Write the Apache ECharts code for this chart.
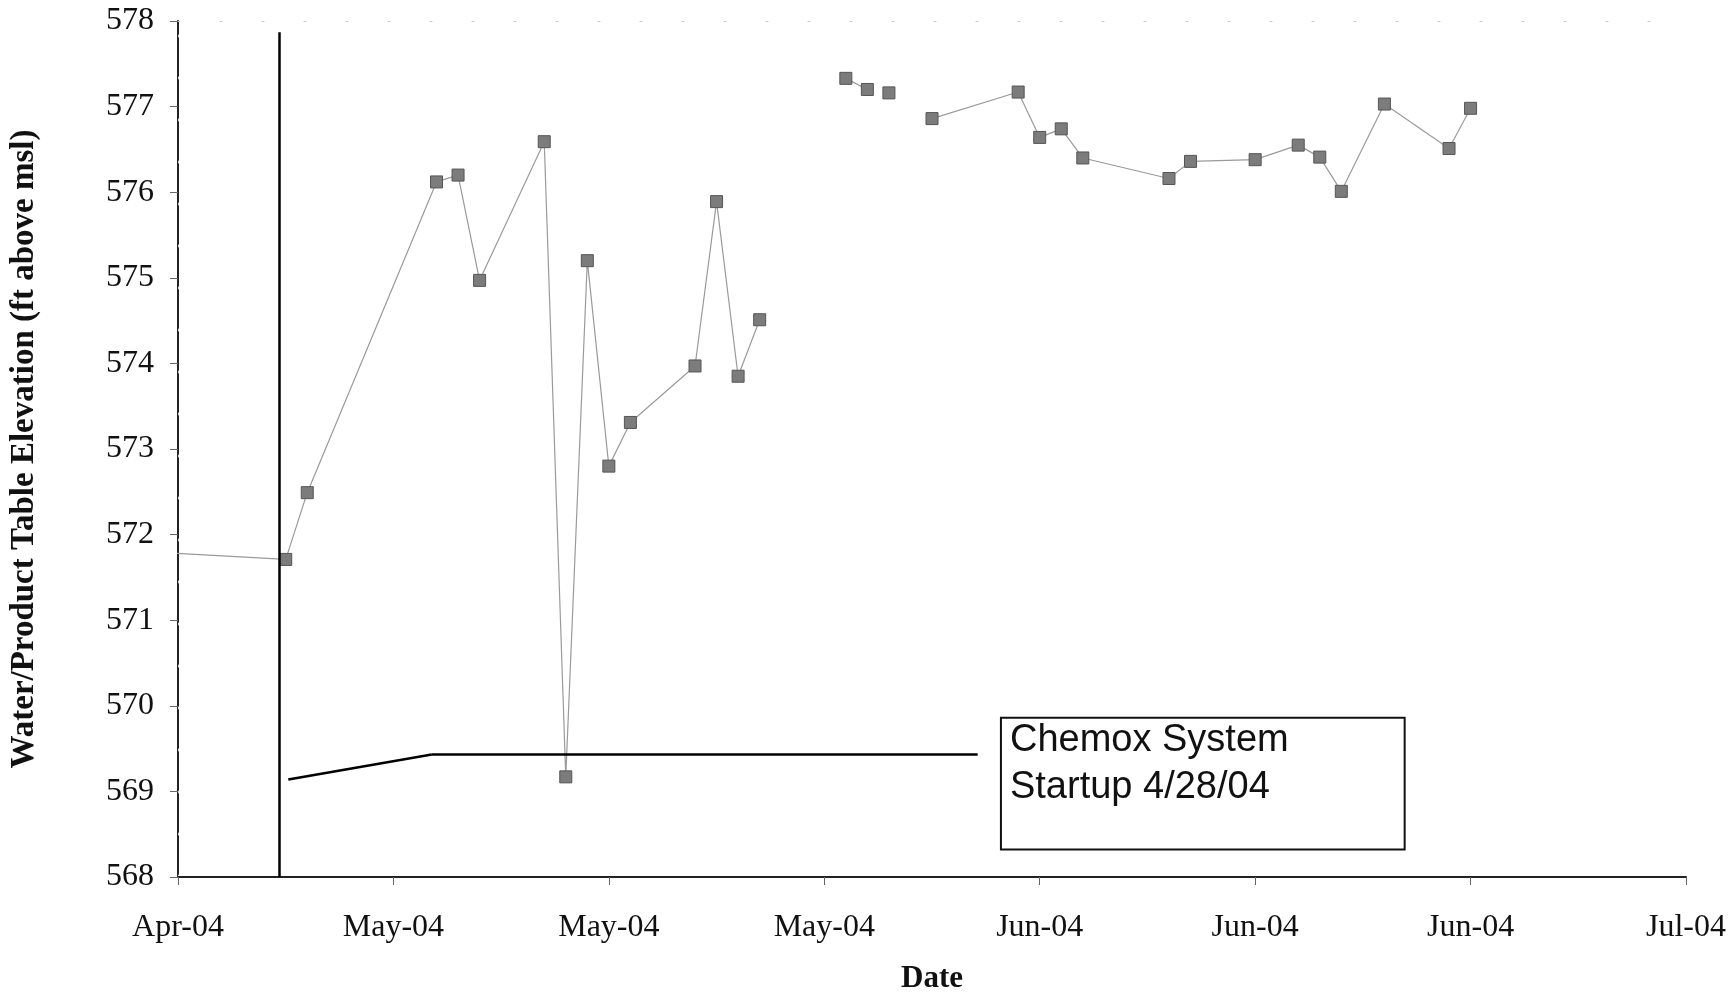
<!DOCTYPE html>
<html>
<head>
<meta charset="utf-8">
<script src="https://cdn.jsdelivr.net/npm/echarts@6/dist/echarts.min.js"></script>
<style>
html,body{margin:0;padding:0;background:#fff;}
#chart{width:1733px;height:999px;}
</style>
</head>
<body>
<div id="chart"></div>
<script>
// ---- data ----
const axisStartDate = '2004-04-23';
const xTickLabels = ['Apr-04','May-04','May-04','May-04','Jun-04','Jun-04','Jun-04','Jul-04'];
const yTicks = [568,569,570,571,572,573,574,575,576,577,578];
// null values break the line
const sampleDates = [
  '2004-04-16','2004-04-28','2004-04-29','2004-05-05','2004-05-06','2004-05-07','2004-05-10',
  '2004-05-11','2004-05-12','2004-05-13','2004-05-14','2004-05-17','2004-05-18','2004-05-19',
  '2004-05-20','2004-05-22','2004-05-24','2004-05-25','2004-05-25','2004-05-26','2004-05-27',
  '2004-05-28','2004-06-01','2004-06-02','2004-06-03','2004-06-04','2004-06-08','2004-06-09',
  '2004-06-12','2004-06-14','2004-06-15','2004-06-16','2004-06-18','2004-06-21','2004-06-22'
];
const elevation = [
  571.88,571.71,572.49,576.12,576.20,574.97,576.59,
  569.17,575.20,572.80,573.31,573.97,575.89,573.85,
  574.51,null,577.33,577.20,null,577.16,null,
  576.86,577.17,576.64,576.74,576.40,576.16,576.36,
  576.38,576.55,576.41,576.01,577.03,576.51,576.98
];
const annotationText = 'Chemox System\nStartup 4/28/04';

// ---- build ----
const DAY = 86400000;
const t0 = Date.parse(axisStartDate);
const dayOf = s => (Date.parse(s) - t0) / DAY;
const seriesData = sampleDates.map((d, i) => [dayOf(d), elevation[i] === null ? '-' : elevation[i]]);

const serif = '"Liberation Serif","Times New Roman",serif';
const sans = '"Liberation Sans",Arial,sans-serif';

const chart = echarts.init(document.getElementById('chart'), null, {renderer:'canvas'});
chart.setOption({
  animation:false,
  backgroundColor:'#fff',
  grid:{left:172, right:47, top:21, bottom:118, containLabel:false},
  xAxis:[{
    type:'value', min:0, max:70, interval:10,
    name:'Date', nameLocation:'middle', nameGap:86,
    nameTextStyle:{fontFamily:serif, fontWeight:'bold', fontSize:31, color:'#111'},
    axisLine:{lineStyle:{color:'#222', width:2}},
    axisTick:{show:true, length:8, lineStyle:{color:'#666', width:1}},
    axisLabel:{fontFamily:serif, fontSize:32, color:'#111', margin:35,
      formatter:(v)=>xTickLabels[Math.round(v/10)] || ''},
    splitLine:{show:false}
  },{
    type:'value', min:0, max:70, position:'top',
    axisLine:{show:true, lineStyle:{color:'#c8c8c8', width:1, type:[2,40]}},
    axisTick:{show:false}, axisLabel:{show:false}, splitLine:{show:false}
  }],
  yAxis:[{
    type:'value', min:568, max:578, interval:1,
    name:'Water/Product Table Elevation (ft above msl)', nameLocation:'middle', nameGap:137,
    nameTextStyle:{fontFamily:serif, fontWeight:'bold', fontSize:33, color:'#111'},
    axisLine:{show:true, lineStyle:{color:'#222', width:2}},
    axisTick:{show:true, length:8, lineStyle:{color:'#666', width:1}},
    axisLabel:{fontFamily:serif, fontSize:32, color:'#111', margin:24,
      formatter:(v)=>yTicks.includes(v) ? String(v) : ''},
    splitLine:{show:false}
  },{
    type:'value', min:568, max:578, position:'right',
    axisLine:{show:true, lineStyle:{color:'#d0d0d0', width:1, type:[2,40]}},
    axisTick:{show:false}, axisLabel:{show:false}, splitLine:{show:false}
  }],
  series:[{
    type:'line',
    data:seriesData,
    clip:true,
    connectNulls:false,
    symbol:'rect', symbolSize:12,
    itemStyle:{color:'#7c7c7c', borderColor:'#555', borderWidth:1},
    lineStyle:{color:'#9a9a9a', width:1.2},
    z:3,
    markLine:{
      silent:true, symbol:'none', animation:false,
      label:{show:false},
      lineStyle:{color:'#000', width:2.5, type:'solid'},
      data:[
        [{coord:[4.72,577.87]},{coord:[4.72,568]}],
        [{coord:[5.12,569.14]},{coord:[11.78,569.43]}],
        [{coord:[11.78,569.43]},{coord:[37.12,569.43]}]
      ]
    },
    markArea:{
      silent:true,
      itemStyle:{color:'#fff', borderColor:'#111', borderWidth:2},
      label:{show:true, position:'insideTopLeft', distance:0, padding:[0,0,0,10],
        fontFamily:sans, fontSize:38, lineHeight:47, color:'#111'},
      data:[[{coord:[38.2,569.86], name:annotationText},{coord:[56.94,568.32]}]]
    }
  }]
});
</script>
</body>
</html>
